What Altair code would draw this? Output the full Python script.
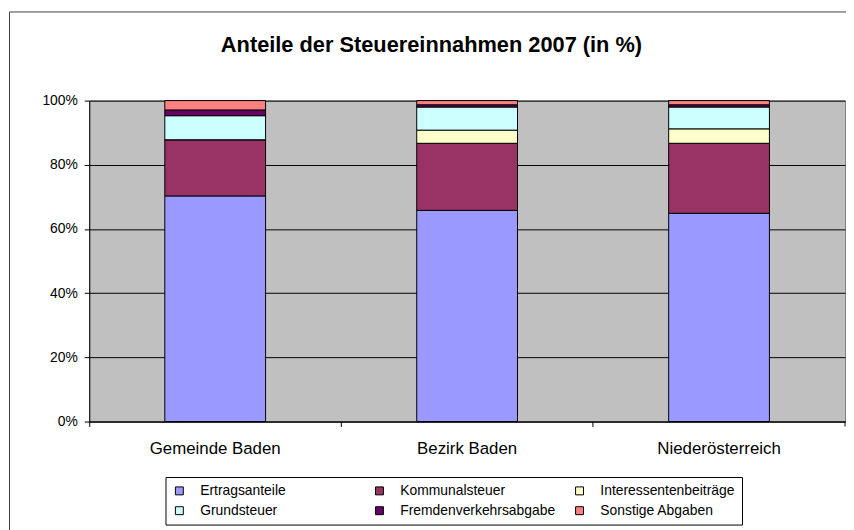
import altair as alt
import pandas as pd

categories = ["Gemeinde Baden", "Bezirk Baden", "Niederösterreich"]
series = ["Ertragsanteile", "Kommunalsteuer", "Interessentenbeiträge",
          "Grundsteuer", "Fremdenverkehrsabgabe", "Sonstige Abgaben"]
colors = ["#9999FF", "#993366", "#FFFFCC", "#CCFFFF", "#660066", "#FF8080"]

gemeinde_baden = [70.3, 17.5, 0.0, 7.5, 1.8, 2.9]
bezirk_baden = [65.8, 20.9, 4.1, 7.2, 0.7, 1.3]
niederoesterreich = [64.9, 21.8, 4.5, 6.8, 0.7, 1.3]
y_ticks = [0, 20, 40, 60, 80, 100]

rows = []
for cat, vals in zip(categories, [gemeinde_baden, bezirk_baden, niederoesterreich]):
    for i, (s, v) in enumerate(zip(series, vals)):
        rows.append({"Gebiet": cat, "Abgabe": s, "Anteil": v, "ord": i})
df = pd.DataFrame(rows)
one = pd.DataFrame({"k": [0]})

FONT = "Liberation Sans"

bars = alt.Chart(df).mark_bar(
    width=alt.RelativeBandSize(0.4), stroke="black", strokeWidth=1
).encode(
    x=alt.X("Gebiet:N", sort=categories,
            scale=alt.Scale(paddingInner=0, paddingOuter=0),
            axis=alt.Axis(title=None, labelAngle=0, bandPosition=0,
                          tickSize=5, labelPadding=14, labelFontSize=17,
                          domainColor="black", tickColor="black", grid=False)),
    y=alt.Y("Anteil:Q", stack="zero",
            scale=alt.Scale(domain=[0, 100], nice=False),
            axis=alt.Axis(title=None, values=y_ticks, labelExpr="datum.value + '%'",
                          tickSize=5, labelPadding=7, labelFontSize=14,
                          grid=True, gridColor="black", gridWidth=1,
                          domainColor="black", tickColor="black")),
    color=alt.Color("Abgabe:N", sort=series,
                    scale=alt.Scale(domain=series, range=colors),
                    legend=alt.Legend(title=None, orient="none", legendX=77, legendY=380,
                                      direction="horizontal", columns=3, gridAlign="all",
                                      symbolType="square", symbolSize=64,
                                      symbolStrokeColor="black", symbolStrokeWidth=1,
                                      symbolOpacity=1, labelFontSize=14, labelFont=FONT,
                                      labelColor="black", labelOffset=14, labelLimit=300,
                                      columnPadding=17, rowPadding=6, padding=7,
                                      strokeColor="black")),
    order=alt.Order("ord:Q", sort="ascending"),
)

border = alt.Chart(one).mark_rect(fillOpacity=0, stroke="#404040", strokeWidth=1).encode(
    x=alt.value(-80.5), x2=alt.value(1000), y=alt.value(-89.5), y2=alt.value(1000)
)

end_tick = alt.Chart(one).mark_rule(color="black", strokeWidth=1).encode(
    x=alt.value(763), y=alt.value(324), y2=alt.value(329)
)

chart = alt.layer(border, bars, end_tick).properties(
    width=763, height=324,
    autosize=alt.AutoSizeParams(type="none"),
    padding={"left": 82, "top": 91, "right": 1, "bottom": 107},
    title=alt.TitleParams("Anteile der Steuereinnahmen 2007 (in %)", fontSize=22,
                          fontWeight="bold", font=FONT, anchor="middle", frame="group",
                          dx=-36, offset=-62.5, baseline="alphabetic", color="black"),
    background="white",
).configure_view(
    fill="#C0C0C0", stroke="#808080", strokeWidth=1
).configure_axis(
    labelFont=FONT, labelColor="black"
)

chart.save("out.html", embed_options={"renderer": "svg", "actions": False})
